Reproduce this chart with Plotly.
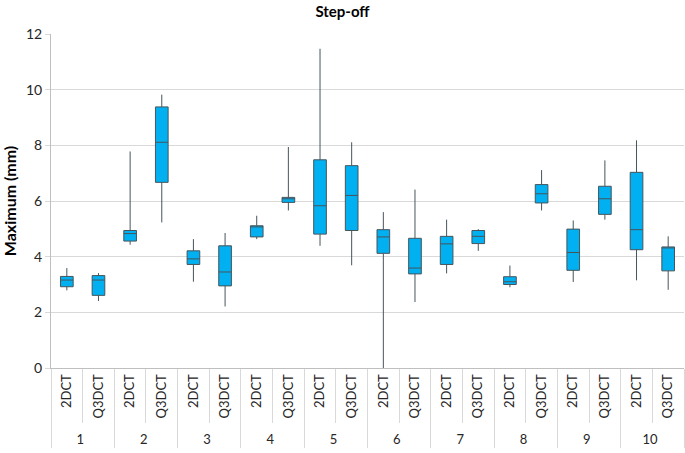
import plotly.graph_objects as go

groups = ["1","1","2","2","3","3","4","4","5","5","6","6","7","7","8","8","9","9","10","10"]
methods = ["2DCT","Q3DCT"] * 10

lower  = [2.79, 2.41, 4.43, 5.23, 3.10, 2.21, 4.63, 5.66, 4.39, 3.69, 0.00, 2.37, 3.40, 4.21, 2.90, 5.66, 3.09, 5.33, 3.15, 2.81]
q1     = [2.92, 2.61, 4.56, 6.67, 3.72, 2.95, 4.71, 5.95, 4.81, 4.94, 4.12, 3.38, 3.72, 4.47, 3.00, 5.93, 3.51, 5.52, 4.25, 3.49]
median = [3.16, 3.16, 4.83, 8.11, 3.92, 3.45, 5.07, 6.08, 5.83, 6.20, 4.71, 3.59, 4.46, 4.73, 3.10, 6.26, 4.15, 6.08, 4.97, 4.33]
q3     = [3.29, 3.32, 4.94, 9.38, 4.21, 4.39, 5.11, 6.13, 7.48, 7.27, 4.97, 4.66, 4.73, 4.94, 3.28, 6.59, 4.99, 6.53, 7.03, 4.35]
upper  = [3.59, 3.41, 7.78, 9.82, 4.63, 4.85, 5.47, 7.94, 11.47, 8.11, 5.60, 6.41, 5.33, 4.99, 3.68, 7.11, 5.30, 7.46, 8.18, 4.73]

y_ticks = [0, 2, 4, 6, 8, 10, 12]
n = len(groups)
pos = list(range(n))

fig = go.Figure()
# invisible trace that builds the two-level category axis
fig.add_trace(go.Scatter(
    x=[groups, methods], y=median, mode="markers",
    marker=dict(opacity=0), hoverinfo="skip", showlegend=False,
))
# boxes on an overlaid numeric axis aligned with category positions
fig.add_trace(go.Box(
    x=pos, xaxis="x2",
    q1=q1, median=median, q3=q3,
    lowerfence=lower, upperfence=upper,
    fillcolor="#00B0F0",
    line=dict(color="#46555c", width=1),
    whiskerwidth=0,
    width=0.4,
    boxpoints=False,
    showlegend=False,
))

fig.update_layout(
    width=685, height=453,
    margin=dict(l=51, r=1, t=34, b=85, autoexpand=False),
    paper_bgcolor="white", plot_bgcolor="white",
    font=dict(family="Lato, Carlito, Calibri, sans-serif", size=13, color="#262626"),
    title=dict(text="<b>Step-off</b>", x=0.5, xanchor="center", y=0.985, yanchor="top",
               font=dict(size=15, color="#000000")),
    xaxis2=dict(overlaying="x", range=[-0.5, n - 0.5], visible=False, type="linear"),
)
fig.update_yaxes(
    range=[0, 12], tickvals=y_ticks, showgrid=True, gridcolor="#d9d9d9", gridwidth=1,
    showline=True, linecolor="#bfbfbf", linewidth=1, zeroline=False,
    ticks="outside", ticklen=5, tickcolor="#d9d9d9",
    tickfont=dict(size=14, color="#262626"),
    title=dict(text="<b>Maximum (mm)</b>", font=dict(size=16, color="#000000"), standoff=13),
)
fig.layout.xaxis.update(
    type="multicategory", range=[-0.5, n - 0.5],
    showline=True, linecolor="#bfbfbf", linewidth=1,
    ticks="outside", tickson="boundaries", ticklen=54, tickcolor="#d9d9d9",
    tickangle=-90,
    showdividers=True, dividercolor="#d9d9d9", dividerwidth=1,
    tickfont=dict(size=13, color="#262626"),
    showgrid=False,
)

fig.write_html("out.html", config={"displayModeBar": False},
               post_script="document.body.style.margin='0';")
